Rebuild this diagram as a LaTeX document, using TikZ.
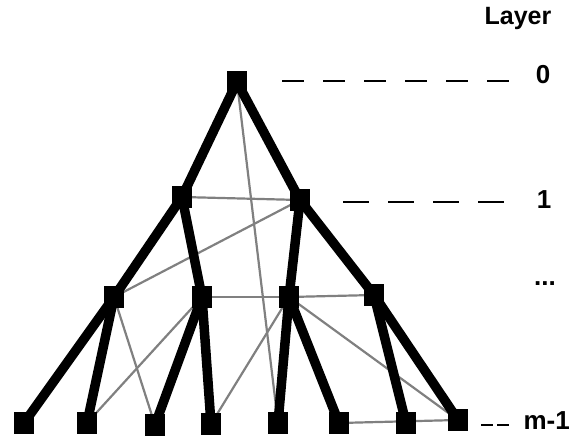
\documentclass[tikz,border=0pt]{standalone}
\usepackage{fontspec}
\setmainfont{Liberation Sans}
\begin{document}
\begin{tikzpicture}[x=1pt,y=-1pt,
  nd/.style={fill=black,draw=none,minimum width=20pt,minimum height=22pt,inner sep=0pt,outer sep=0pt},
  thick edge/.style={line width=9.5pt,black,line cap=round},
  thin edge/.style={line width=2.2pt,black!50},
  lvl/.style={draw=black,line width=2.6pt,dash pattern=on 22pt off 19pt},
  lab/.style={font=\bfseries\fontsize{26}{26}\selectfont,inner sep=0pt}]
\useasboundingbox (0,0) rectangle (572,438);
% nodes
\node[nd] (r) at (237,82) {};
\node[nd] (a) at (182,197) {};
\node[nd] (b) at (300,200) {};
\node[nd] (c) at (114,297) {};
\node[nd] (d) at (202,297) {};
\node[nd] (e) at (289,297) {};
\node[nd] (f) at (374,295) {};
\node[nd] (l1) at (24,423) {};
\node[nd] (l2) at (87,423) {};
\node[nd] (l3) at (155,425) {};
\node[nd] (l4) at (211,424) {};
\node[nd] (l5) at (278,423) {};
\node[nd] (l6) at (339,423) {};
\node[nd] (l7) at (406,423) {};
\node[nd] (l8) at (458,420) {};
% thin gray connections
\draw[thin edge] (a.center) -- (b.center);
\draw[thin edge] (r.center) -- (l5.center);
\draw[thin edge] (b.center) -- (c.center);
\draw[thin edge] (d.center) -- (e.center);
\draw[thin edge] (e.center) -- (f.center);
\draw[thin edge] (c.center) -- (l3.center);
\draw[thin edge] (d.center) -- (l2.center);
\draw[thin edge] (e.center) -- (l4.center);
\draw[thin edge] (e.center) -- (l8.center);
\draw[thin edge] (l6.center) -- (l8.center);
% thick tree edges
\draw[thick edge] (r.center) -- (a.center);
\draw[thick edge] (r.center) -- (b.center);
\draw[thick edge] (a.center) -- (c.center);
\draw[thick edge] (a.center) -- (d.center);
\draw[thick edge] (b.center) -- (e.center);
\draw[thick edge] (b.center) -- (f.center);
\draw[thick edge] (c.center) -- (l1.center);
\draw[thick edge] (c.center) -- (l2.center);
\draw[thick edge] (d.center) -- (l3.center);
\draw[thick edge] (d.center) -- (l4.center);
\draw[thick edge] (e.center) -- (l5.center);
\draw[thick edge] (e.center) -- (l6.center);
\draw[thick edge] (f.center) -- (l7.center);
\draw[thick edge] (f.center) -- (l8.center);
% redraw nodes on top
\foreach \n in {r,a,b,c,d,e,f,l1,l2,l3,l4,l5,l6,l7,l8} {\fill (\n.south west) rectangle (\n.north east);}
% layer labels
\node[lab,font=\bfseries\fontsize{25}{25}\selectfont,anchor=base] (tl) at (518,25) {Layer};
\node[lab] (t0) at (543,75) {0};
\node[lab] (t1) at (544,200) {1};
\node[lab] (t2) at (545,284) {...};
\node[lab,anchor=east] (t3) at (570,421) {m-1};
% dashed layer lines
\coordinate (d0a) at (282,81); \coordinate (d0b) at (511,81);
\coordinate (d1a) at (343,202); \coordinate (d1b) at (511,202);
\coordinate (d3a) at (481,425); \coordinate (d3b) at (509,425);
\draw[lvl] (d0a) -- (d0b);
\draw[lvl,dash pattern=on 26pt off 19pt] (d1a) -- (d1b);
\draw[lvl,dash pattern=on 12pt off 4pt] (d3a) -- (d3b);
\end{tikzpicture}
\end{document}
